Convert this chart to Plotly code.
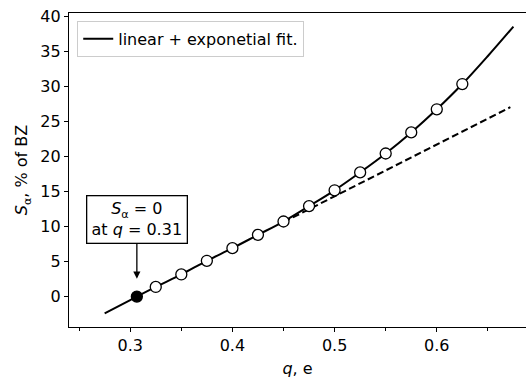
import plotly.graph_objects as go

# measured data points (open circles)
q_data = [0.325, 0.35, 0.375, 0.40, 0.425, 0.45, 0.475, 0.50, 0.525, 0.55, 0.575, 0.60, 0.625]
s_data = [1.37, 3.15, 5.1, 6.9, 8.8, 10.7, 12.9, 15.15, 17.7, 20.4, 23.4, 26.7, 30.3]

# zero crossing point (filled)
q_zero = [0.3065]
s_zero = [0.0]

# linear + exponential fit curve
q_fit = [0.275, 0.30, 0.325, 0.35, 0.375, 0.40, 0.425, 0.45, 0.475, 0.50, 0.525, 0.55, 0.575, 0.60, 0.625, 0.65, 0.675]
s_fit = [-2.4, -0.5, 1.37, 3.15, 5.1, 6.9, 8.8, 10.7, 12.9, 15.15, 17.7, 20.4, 23.4, 26.7, 30.3, 34.3, 38.5]

# linear part (dashed)
q_lin = [0.45, 0.672]
s_lin = [10.6, 27.0]

FONT = "DejaVu Sans"
FS = 16

fig = go.Figure()
fig.add_trace(go.Scatter(x=q_lin, y=s_lin, mode="lines",
                         line=dict(color="black", width=2, dash="7px,3.5px"),
                         showlegend=False, hoverinfo="skip"))
fig.add_trace(go.Scatter(x=q_fit, y=s_fit, mode="lines",
                         line=dict(color="black", width=2, shape="spline"),
                         name="linear + exponetial fit."))
fig.add_trace(go.Scatter(x=q_data, y=s_data, mode="markers",
                         marker=dict(symbol="circle", size=11, color="white",
                                     line=dict(color="black", width=1.3)),
                         showlegend=False))
fig.add_trace(go.Scatter(x=q_zero, y=s_zero, mode="markers",
                         marker=dict(symbol="circle", size=11, color="black",
                                     line=dict(color="black", width=1.3)),
                         showlegend=False))

fig.add_annotation(x=q_zero[0], y=2.55, xref="x", yref="y",
                   text="<i>S</i><sub>α</sub> = 0<br>at <i>q</i> = 0.31",
                   showarrow=True, arrowhead=2, arrowsize=1.1, arrowwidth=1.3,
                   arrowcolor="black", ax=0, ay=-59,
                   bordercolor="black", borderwidth=1.3, borderpad=2,
                   bgcolor="white", width=95, height=42,
                   font=dict(family=FONT, size=FS, color="black"))

fig.update_layout(
    width=526, height=378,
    margin=dict(l=69, r=0, t=13, b=51),
    plot_bgcolor="white", paper_bgcolor="white",
    font=dict(family=FONT, size=FS, color="black"),
    showlegend=True,
    legend=dict(x=0.018, y=0.975, xanchor="left", yanchor="top",
                bgcolor="white", bordercolor="#cccccc", borderwidth=1,
                font=dict(family=FONT, size=FS, color="black"),
                itemwidth=30, tracegroupgap=0),
    xaxis=dict(range=[0.2401, 0.6873], showgrid=False, zeroline=False,
               showline=True, linecolor="black", linewidth=1.2, mirror=True,
               ticks="outside", ticklen=4, tickwidth=1, tickcolor="black",
               tickvals=[0.3, 0.4, 0.5, 0.6], ticktext=["0.3", "0.4", "0.5", "0.6"],
               tickfont=dict(family=FONT, size=FS, color="black"),
               minor=dict(tickvals=[0.25, 0.35, 0.45, 0.55, 0.65], ticks="outside",
                          ticklen=2.5, tickcolor="black", tickwidth=1),
               title=dict(text="<i>q</i>, e", standoff=9,
                          font=dict(family=FONT, size=FS, color="black"))),
    yaxis=dict(range=[-4.34, 40.43], showgrid=False, zeroline=False,
               showline=True, linecolor="black", linewidth=1.2,
               ticks="outside", ticklen=4, tickwidth=1, tickcolor="black",
               tickvals=[0, 5, 10, 15, 20, 25, 30, 35, 40],
               tickfont=dict(family=FONT, size=FS, color="black"),
               title=dict(text="<i>S</i><sub>α</sub>, % of BZ", standoff=8,
                          font=dict(family=FONT, size=FS, color="black"))),
)

fig.write_html("out.html")
